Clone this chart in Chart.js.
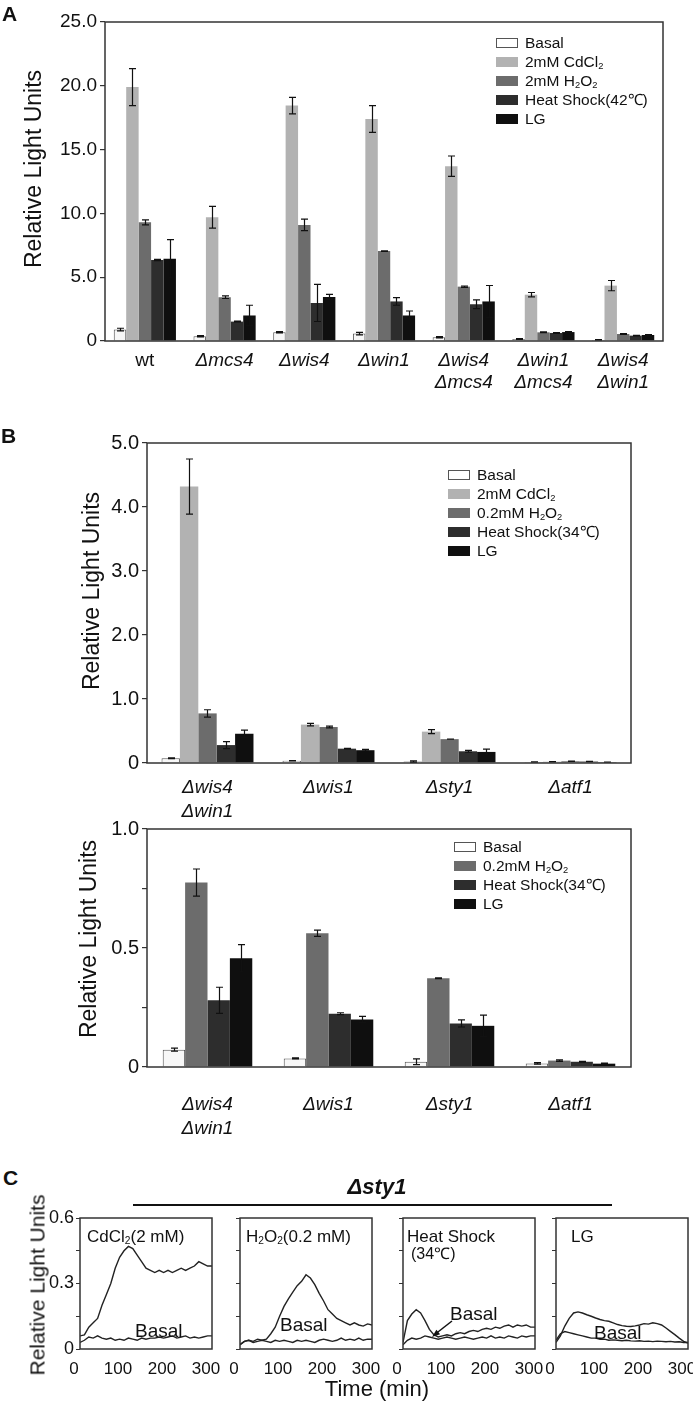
<!DOCTYPE html>
<html>
<head>
<meta charset="utf-8">
<script src="https://cdn.jsdelivr.net/npm/chart.js@4.4.0/dist/chart.umd.min.js"></script>
<style>
  body { margin: 0; background: #fff; }
  #page { position: relative; width: 693px; height: 1402px; overflow: hidden; font-family: 'Liberation Sans', Arial, sans-serif; color: #111; }
  #page canvas { position: absolute; }
  .t { position: absolute; white-space: nowrap; line-height: 1; }
  .leg { position: absolute; font-size: 15.5px; line-height: 19px; }
  .leg div { height: 19px; white-space: nowrap; }
  .sw { display: inline-block; width: 22px; height: 10px; vertical-align: middle; margin-right: 7px; box-sizing: border-box; position: relative; top: -1px; }
  sub { font-size: 60%; vertical-align: -2px; line-height: 0; }
</style>
</head>
<body>
<div id="page">
  <canvas id="chartA"></canvas>
  <canvas id="chartB1"></canvas>
  <canvas id="chartB2"></canvas>
  <canvas id="chartC1"></canvas>
  <canvas id="chartC2"></canvas>
  <canvas id="chartC3"></canvas>
  <canvas id="chartC4"></canvas>
  <svg style="position:absolute;left:420px;top:1310px" width="50" height="40">
    <line x1="32" y1="11" x2="16" y2="23.5" stroke="#111" stroke-width="1.5"/>
    <polygon points="12,27 20.1,24.3 16.4,19.7" fill="#111"/>
  </svg>
  <div style="position:absolute;left:133px;top:1204px;width:479px;height:1.5px;background:#111"></div>
</div>
<script>
const FONT = "'Liberation Sans', Arial, sans-serif";

// ---- panel A ----
const strainsA = ['wt', 'Δmcs4', 'Δwis4', 'Δwin1', ['Δwis4', 'Δmcs4'], ['Δwin1', 'Δmcs4'], ['Δwis4', 'Δwin1']];
const treatA = ['Basal', '2mM CdCl₂', '2mM H₂O₂', 'Heat Shock(42℃)', 'LG'];
const basalA = [0.9, 0.37, 0.68, 0.58, 0.3, 0.15, 0.08];
const basalErrA = [0.1, 0.05, 0.05, 0.1, 0.05, 0.03, 0.02];
const cdA = [19.9, 9.7, 18.45, 17.4, 13.7, 3.63, 4.34];
const cdErrA = [1.45, 0.85, 0.65, 1.05, 0.8, 0.17, 0.4];
const h2o2A = [9.3, 3.43, 9.1, 7.05, 4.26, 0.68, 0.55];
const h2o2ErrA = [0.2, 0.1, 0.45, 0.02, 0.05, 0.03, 0.03];
const heatA = [6.35, 1.52, 2.98, 3.1, 2.88, 0.63, 0.42];
const heatErrA = [0.05, 0.03, 1.45, 0.3, 0.35, 0.03, 0.03];
const lgA = [6.45, 2.0, 3.45, 2.0, 3.1, 0.7, 0.47];
const lgErrA = [1.5, 0.8, 0.2, 0.35, 1.25, 0.03, 0.03];

// ---- panel B ----
const strainsB = [['Δwis4', 'Δwin1'], 'Δwis1', 'Δsty1', 'Δatf1'];
const treatB = ['Basal', '2mM CdCl₂', '0.2mM H₂O₂', 'Heat Shock(34℃)', 'LG'];
const basalB = [0.073, 0.036, 0.022, 0.015];
const basalErrB = [0.006, 0.002, 0.012, 0.003];
const cdB = [4.32, 0.6, 0.49, 0.02];
const cdErrB = [0.43, 0.02, 0.03, 0.003];
const h2o2B = [0.775, 0.562, 0.373, 0.027];
const h2o2ErrB = [0.057, 0.013, 0.002, 0.003];
const heatB = [0.28, 0.224, 0.183, 0.022];
const heatErrB = [0.055, 0.004, 0.015, 0.002];
const lgB = [0.457, 0.2, 0.173, 0.014];
const lgErrB = [0.057, 0.013, 0.045, 0.002];

// ---- panel C (delta sty1 time courses, every 10 min) ----
const timeC = [0, 10, 20, 30, 40, 50, 60, 70, 80, 90, 100, 110, 120, 130, 140, 150, 160, 170, 180, 190, 200, 210, 220, 230, 240, 250, 260, 270, 280, 290, 300];
const cdTrace = [0.06, 0.065, 0.1, 0.12, 0.14, 0.2, 0.25, 0.3, 0.37, 0.42, 0.45, 0.47, 0.46, 0.43, 0.4, 0.37, 0.36, 0.35, 0.36, 0.35, 0.36, 0.35, 0.36, 0.37, 0.36, 0.37, 0.38, 0.4, 0.39, 0.38, 0.38];
const cdBasal = [0.03, 0.04, 0.055, 0.05, 0.06, 0.05, 0.045, 0.05, 0.04, 0.045, 0.04, 0.05, 0.045, 0.04, 0.05, 0.045, 0.05, 0.05, 0.055, 0.05, 0.055, 0.06, 0.05, 0.055, 0.06, 0.05, 0.055, 0.05, 0.055, 0.06, 0.06];
const h2o2Trace = [0.02, 0.035, 0.04, 0.035, 0.045, 0.04, 0.045, 0.07, 0.1, 0.15, 0.195, 0.23, 0.26, 0.29, 0.31, 0.34, 0.325, 0.295, 0.255, 0.22, 0.18, 0.16, 0.14, 0.13, 0.12, 0.11, 0.12, 0.11, 0.105, 0.115, 0.11];
const h2o2Basal = [0.02, 0.035, 0.04, 0.03, 0.035, 0.04, 0.035, 0.03, 0.04, 0.035, 0.04, 0.035, 0.03, 0.04, 0.035, 0.04, 0.035, 0.03, 0.04, 0.045, 0.04, 0.035, 0.04, 0.05, 0.04, 0.045, 0.04, 0.05, 0.04, 0.045, 0.045];
const heatTrace = [0.03, 0.13, 0.16, 0.18, 0.165, 0.13, 0.09, 0.065, 0.055, 0.06, 0.065, 0.06, 0.07, 0.075, 0.07, 0.08, 0.085, 0.08, 0.09, 0.095, 0.09, 0.1, 0.095, 0.105, 0.11, 0.1, 0.11, 0.105, 0.11, 0.1, 0.1];
const heatBasal = [0.02, 0.04, 0.05, 0.045, 0.05, 0.06, 0.055, 0.05, 0.045, 0.05, 0.055, 0.05, 0.045, 0.05, 0.055, 0.05, 0.045, 0.05, 0.055, 0.05, 0.06, 0.05, 0.055, 0.05, 0.06, 0.055, 0.05, 0.06, 0.055, 0.06, 0.06];
const lgTrace = [0.03, 0.06, 0.105, 0.14, 0.165, 0.17, 0.165, 0.157, 0.15, 0.142, 0.135, 0.13, 0.127, 0.12, 0.112, 0.107, 0.104, 0.103, 0.106, 0.11, 0.116, 0.114, 0.12, 0.116, 0.11, 0.096, 0.081, 0.066, 0.05, 0.035, 0.027];
const lgBasal = [0.04, 0.07, 0.08, 0.075, 0.07, 0.065, 0.06, 0.055, 0.05, 0.05, 0.045, 0.045, 0.04, 0.042, 0.04, 0.038, 0.04, 0.037, 0.036, 0.038, 0.035, 0.036, 0.034, 0.036, 0.035, 0.033, 0.035, 0.032, 0.033, 0.03, 0.03];

const barColors = ['#f7f7f7', '#b2b2b2', '#6c6c6c', '#2d2d2d', '#0f0f0f'];

// draw error bars from dataset.errors through the y scale
const errorBars = {
  id: 'errorBars',
  afterDatasetsDraw(chart) {
    const ctx = chart.ctx;
    const y = chart.scales.y;
    ctx.save();
    ctx.strokeStyle = '#111';
    ctx.lineWidth = 1.2;
    chart.data.datasets.forEach((ds, i) => {
      if (!ds.errors) return;
      chart.getDatasetMeta(i).data.forEach((bar, j) => {
        const v = ds.data[j], e = ds.errors[j];
        if (!e) return;
        const top = y.getPixelForValue(v + e);
        const bot = y.getPixelForValue(Math.max(0, v - e));
        const x = Math.round(bar.x) + 0.5;
        ctx.beginPath();
        ctx.moveTo(x, top); ctx.lineTo(x, bot);
        ctx.moveTo(x - 3.5, top); ctx.lineTo(x + 3.5, top);
        ctx.moveTo(x - 3.5, bot); ctx.lineTo(x + 3.5, bot);
        ctx.stroke();
      });
    });
    ctx.restore();
  }
};

// closed frame round the plot area
const frameBox = {
  id: 'frameBox',
  afterDraw(chart) {
    const { ctx, chartArea: a } = chart;
    ctx.save();
    ctx.strokeStyle = '#333';
    ctx.lineWidth = 1.5;
    ctx.strokeRect(a.left, a.top, a.right - a.left, a.bottom - a.top);
    ctx.restore();
  }
};

function placeCanvas(id, pos) {
  const cv = document.getElementById(id);
  cv.width = pos.w; cv.height = pos.h;
  cv.style.left = pos.l + 'px'; cv.style.top = pos.t + 'px';
  cv.style.width = pos.w + 'px'; cv.style.height = pos.h + 'px';
  return cv;
}

function barSets(idx, names, values, errors) {
  return idx.map(k => ({
    label: names[k],
    data: values[k],
    errors: errors[k],
    backgroundColor: barColors[k],
    borderColor: k === 0 ? '#555' : barColors[k],
    borderWidth: k === 0 ? 1 : 0
  }));
}

function makeBar(id, pos, plot, cfg) {
  const cv = placeCanvas(id, pos);
  const yW = 60, xH = cfg.xH;
  new Chart(cv, {
    type: 'bar',
    data: { labels: cfg.labels, datasets: cfg.datasets },
    options: {
      responsive: false,
      animation: false,
      devicePixelRatio: 1,
      layout: { padding: { left: plot.l - pos.l - yW, right: pos.l + pos.w - plot.r, top: plot.t - pos.t, bottom: pos.t + pos.h - plot.b - xH } },
      datasets: { bar: { categoryPercentage: cfg.cat, barPercentage: 1 } },
      plugins: { legend: { display: false }, tooltip: { enabled: false } },
      scales: {
        x: {
          grid: { display: false },
          border: { display: false },
          ticks: {
            color: '#111', padding: cfg.xPad, maxRotation: 0, autoSkip: false,
            font: c => ({ family: FONT, size: 19, lineHeight: cfg.xLine, style: (cfg.uprightFirst && c.index === 0) ? 'normal' : 'italic' })
          },
          afterFit: s => { s.height = xH; }
        },
        y: {
          min: 0, max: cfg.max,
          ticks: { stepSize: cfg.step, color: '#111', padding: 3, font: { family: FONT, size: cfg.ySize }, callback: cfg.yLabel },
          grid: { drawOnChartArea: false, tickLength: 5, color: '#333', lineWidth: 1.2 },
          border: { display: false },
          afterFit: s => { s.width = yW; }
        }
      }
    },
    plugins: [errorBars, frameBox]
  });
}

function xy(xs, ys) { return xs.map((x, i) => ({ x: x, y: ys[i] })); }

function makeLine(id, plotLeft, trace, basal, showY) {
  const plot = { l: plotLeft, r: plotLeft + 132, t: 1218, b: 1349 };
  const pos = { l: plotLeft - 50, t: 1195, w: 206, h: 185 };
  const cv = placeCanvas(id, pos);
  const yW = 45, xH = 25;
  const line = d => ({ data: d, borderColor: '#222', borderWidth: 1.4, pointRadius: 0, tension: 0 });
  new Chart(cv, {
    type: 'line',
    data: { datasets: [line(xy(timeC, trace)), line(xy(timeC, basal))] },
    options: {
      responsive: false,
      animation: false,
      devicePixelRatio: 1,
      layout: { padding: { left: plot.l - pos.l - yW, right: pos.l + pos.w - plot.r, top: plot.t - pos.t, bottom: pos.t + pos.h - plot.b - xH } },
      plugins: { legend: { display: false }, tooltip: { enabled: false } },
      scales: {
        x: {
          type: 'linear', min: 0, max: 300,
          grid: { display: false },
          border: { display: false },
          ticks: { stepSize: 100, color: '#111', padding: 2, labelOffset: -6, maxRotation: 0, font: { family: FONT, size: 17 } },
          afterFit: s => { s.height = xH; }
        },
        y: {
          min: 0, max: 0.6,
          grid: { drawOnChartArea: false, tickLength: 4, color: '#333' },
          border: { display: false },
          ticks: {
            stepSize: 0.15, color: '#111', padding: 2, font: { family: FONT, size: 18 },
            callback: v => {
              if (!showY) return '';
              const r = Math.round(v * 100);
              return r === 0 ? '0' : r === 30 ? '0.3' : r === 60 ? '0.6' : '';
            }
          },
          afterFit: s => { s.width = yW; }
        }
      }
    },
    plugins: [frameBox]
  });
}

const oneDecimal = v => v === 0 ? '0' : v.toFixed(1);

makeBar('chartA', { l: 0, t: 0, w: 693, h: 420 }, { l: 105, t: 22, r: 663, b: 341 }, {
  labels: strainsA,
  datasets: barSets([0, 1, 2, 3, 4], treatA, [basalA, cdA, h2o2A, heatA, lgA], [basalErrA, cdErrA, h2o2ErrA, heatErrA, lgErrA]),
  cat: 0.78, max: 25, step: 5, ySize: 19, yLabel: oneDecimal,
  xPad: 1, xLine: 1.15, xH: 70, uprightFirst: true
});

makeBar('chartB1', { l: 0, t: 400, w: 693, h: 440 }, { l: 147, t: 443, r: 631, b: 763 }, {
  labels: strainsB,
  datasets: barSets([0, 1, 2, 3, 4], treatB, [basalB, cdB, h2o2B, heatB, lgB], [basalErrB, cdErrB, h2o2ErrB, heatErrB, lgErrB]),
  cat: 0.76, max: 5, step: 1, ySize: 20, yLabel: oneDecimal,
  xPad: 5, xLine: 1.25, xH: 70
});

makeBar('chartB2', { l: 0, t: 800, w: 693, h: 345 }, { l: 147, t: 829, r: 631, b: 1067 }, {
  labels: strainsB,
  datasets: barSets([0, 2, 3, 4], treatB, [basalB, cdB, h2o2B, heatB, lgB], [basalErrB, cdErrB, h2o2ErrB, heatErrB, lgErrB]),
  cat: 0.74, max: 1, step: 0.25, ySize: 20,
  yLabel: v => v === 0 ? '0' : v === 0.5 ? '0.5' : v === 1 ? '1.0' : '',
  xPad: 18, xLine: 1.25, xH: 75
});

makeLine('chartC1', 80, cdTrace, cdBasal, true);
makeLine('chartC2', 240, h2o2Trace, h2o2Basal, false);
makeLine('chartC3', 403, heatTrace, heatBasal, false);
makeLine('chartC4', 556, lgTrace, lgBasal, false);

// ---- text: panel letters, axis titles, legends, annotations ----
const page = document.getElementById('page');
const subs = s => s.replace(/₂/g, '<sub>2</sub>');

function text(html, x, y, size, style, center) {
  const d = document.createElement('div');
  d.className = 't';
  d.innerHTML = subs(html);
  d.style.left = x + 'px';
  d.style.top = y + 'px';
  d.style.fontSize = size + 'px';
  d.style.transform = center ? 'translate(-50%,-50%)' : 'translate(0,-50%)';
  if (style) d.style.cssText += style;
  page.appendChild(d);
}

function yTitle(x, y, size) {
  const d = document.createElement('div');
  d.className = 't';
  d.textContent = 'Relative Light Units';
  d.style.left = x + 'px';
  d.style.top = y + 'px';
  d.style.fontSize = size + 'px';
  d.style.transform = 'translate(-50%,-50%) rotate(-90deg)';
  page.appendChild(d);
}

function legend(x, y, idx, names) {
  const box = document.createElement('div');
  box.className = 'leg';
  box.style.left = x + 'px';
  box.style.top = y + 'px';
  idx.forEach(k => {
    const row = document.createElement('div');
    const border = k === 0 ? '1px solid #555' : 'none';
    row.innerHTML = '<span class="sw" style="background:' + (k === 0 ? '#fff' : barColors[k]) + ';border:' + border + '"></span>' + subs(names[k]);
    box.appendChild(row);
  });
  page.appendChild(box);
}

text('A', 2, 13, 21, 'font-weight:bold;');
text('B', 1, 435, 21, 'font-weight:bold;');
text('C', 3, 1177, 21, 'font-weight:bold;');

yTitle(33, 169, 23);
yTitle(91, 591, 23);
yTitle(88, 939, 23);
yTitle(37, 1285, 21);

legend(496, 33, [0, 1, 2, 3, 4], treatA);
legend(448, 465, [0, 1, 2, 3, 4], treatB);
legend(454, 837, [0, 2, 3, 4], treatB);

text('Δsty1', 377, 1187, 22, 'font-weight:bold;font-style:italic;', true);
text('Time (min)', 377, 1389, 22, '', true);
text('CdCl₂(2 mM)', 87, 1236, 17);
text('H₂O₂(0.2 mM)', 246, 1236, 17);
text('Heat Shock', 407, 1236, 17);
text('(34℃)', 411, 1254, 16);
text('LG', 571, 1236, 17);
text('Basal', 135, 1330, 19);
text('Basal', 280, 1324, 19);
text('Basal', 450, 1313, 19);
text('Basal', 594, 1332, 19);
</script>
</body>
</html>
